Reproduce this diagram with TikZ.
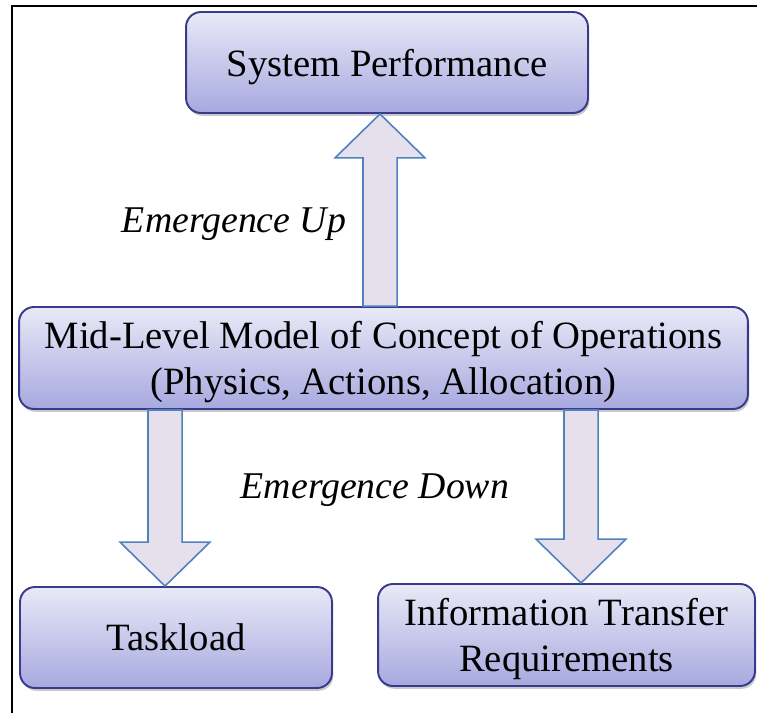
\documentclass[tikz,border=0pt]{standalone}
\usepackage{fontspec}
\setmainfont{Liberation Serif}
\usetikzlibrary{calc, shadows}

\definecolor{boxtop}{RGB}{233,233,247}
\definecolor{boxbot}{RGB}{167,169,223}
\definecolor{boxline}{RGB}{58,58,140}
\definecolor{arrfill}{RGB}{229,224,236}
\definecolor{arrline}{RGB}{79,129,189}

\tikzset{
  levelbox/.style={draw=boxline, line width=1.1pt, rounded corners=8.5pt,
    top color=boxtop, bottom color=boxbot, align=center,
    font=\fontsize{22}{26}\selectfont, inner sep=0pt, text depth=0pt,
    drop shadow={shadow xshift=0.8pt, shadow yshift=-1.6pt, opacity=0.3, fill=black!70}},
  fatarrow/.style={draw=arrline, fill=arrfill, line width=0.9pt, line join=miter},
  emlabel/.style={font=\fontsize{21.5}{26}\selectfont\itshape}
}

\newcommand{\shaftw}{9.7pt}
\newcommand{\headw}{25.6pt}
\newcommand{\headlen}{25pt}
\newcommand{\fatarrow}[2]{%
  \draw[fatarrow] let \p1=(#1), \p2=(#2), \p3=($(\p2)!\headlen!(\p1)$) in
    (\x1-\shaftw,\y1) -- (\x1-\shaftw,\y3) -- (\x1-\headw,\y3) -- (\x2,\y2)
    -- (\x1+\headw,\y3) -- (\x1+\shaftw,\y3) -- (\x1+\shaftw,\y1) -- cycle;}

\begin{document}
\begin{tikzpicture}[x=0.02cm, y=-0.02cm]
\useasboundingbox (0,0) rectangle (757,713);
% 三層模型與湧現箭頭
\draw[line width=1pt] (12,713) -- (12,6) -- (757,6);

\node[levelbox, minimum width=8.04cm, minimum height=2.02cm] (perf) at (387,62.5) {System Performance};
\node[levelbox, minimum width=14.58cm, minimum height=2.04cm] (mid) at (383.5,358)
  {Mid-Level Model of Concept of Operations\\(Physics, Actions, Allocation)};
\node[levelbox, minimum width=6.24cm, minimum height=2.02cm] (task) at (176,637.5) {Taskload};
\node[levelbox, minimum width=7.54cm, minimum height=2.04cm] (info) at (566.5,635)
  {Information Transfer\\Requirements};

\coordinate (upA) at ($(perf.south |- mid.north)+(-7,0)$);
\coordinate (upB) at ($(perf.south)+(-7,0)$);
\coordinate (dnA) at ($(task.north |- mid.south)+(-11,0)$);
\coordinate (dnB) at ($(task.north)+(-11,0)$);
\coordinate (itA) at ($(info.north |- mid.south)+(14.5,0)$);
\coordinate (itB) at ($(info.north)+(14.5,0)$);
\fatarrow{upA}{upB}
\fatarrow{dnA}{dnB}
\fatarrow{itA}{itB}

\node[emlabel] (up) at (234,224) {Emergence Up};
\node[emlabel] (down) at (375,490) {Emergence Down};
\end{tikzpicture}
\end{document}
